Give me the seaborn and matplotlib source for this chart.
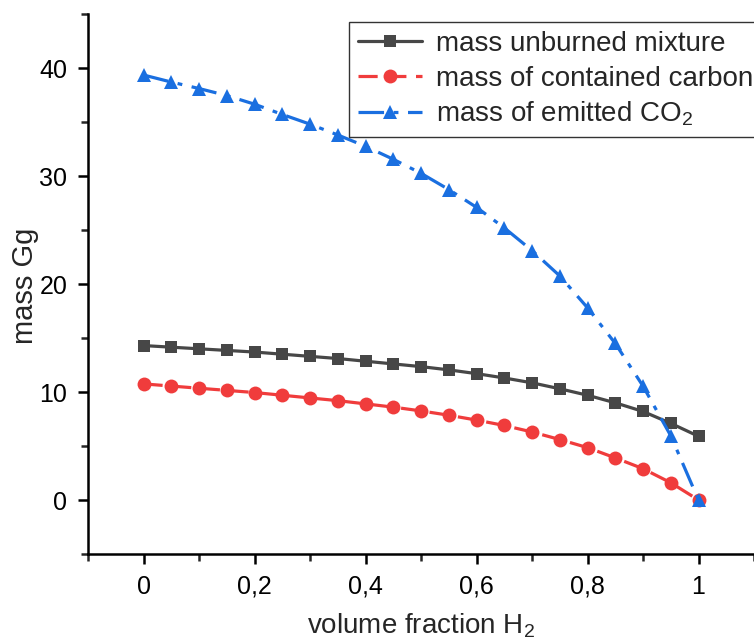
import matplotlib
matplotlib.use('Agg')
import matplotlib.pyplot as plt
import seaborn as sns
import pandas as pd
from matplotlib.ticker import MultipleLocator, FuncFormatter

# dados
fracao_h2 = [0.0, 0.05, 0.1, 0.15, 0.2, 0.25, 0.3, 0.35, 0.4, 0.45, 0.5,
             0.55, 0.6, 0.65, 0.7, 0.75, 0.8, 0.85, 0.9, 0.95, 1.0]
massa_mistura = [14.3, 14.15, 14.0, 13.85, 13.7, 13.5, 13.3, 13.1, 12.85, 12.6, 12.35,
                 12.05, 11.7, 11.3, 10.85, 10.3, 9.7, 9.0, 8.2, 7.1, 5.9]
massa_carbono = [10.75, 10.55, 10.35, 10.15, 9.95, 9.7, 9.45, 9.2, 8.9, 8.6, 8.25,
                 7.85, 7.4, 6.9, 6.3, 5.6, 4.85, 3.9, 2.9, 1.6, 0.0]
massa_co2 = [39.35, 38.7, 38.1, 37.45, 36.65, 35.7, 34.8, 33.8, 32.75, 31.55, 30.25,
             28.75, 27.1, 25.2, 23.1, 20.75, 17.8, 14.5, 10.55, 5.95, 0.0]

nomes = ['mass unburned mixture', 'mass of contained carbon', 'mass of emitted CO$_2$']

df = pd.DataFrame({'x': fracao_h2, 'mix': massa_mistura, 'carb': massa_carbono, 'co2': massa_co2})

sns.set_style('ticks')
plt.rcParams['font.family'] = ['Liberation Sans', 'DejaVu Sans']
plt.rcParams['mathtext.default'] = 'regular'

fig = plt.figure(figsize=(7.54, 6.41), dpi=100)
ax = fig.add_axes([88/754, 87/641, 1 - 88/754, (554 - 14)/641])

sns.lineplot(data=df, x='x', y='mix', ax=ax, color='#474747', linewidth=2.3,
             marker='s', markersize=9, markeredgewidth=0, label=nomes[0])
sns.lineplot(data=df, x='x', y='carb', ax=ax, color='#f03c3c', linewidth=2.3,
             marker='o', markersize=10, markeredgewidth=0, dashes=(6, 3), label=nomes[1])
sns.lineplot(data=df, x='x', y='co2', ax=ax, color='#1a6fe0', linewidth=2.3,
             marker='^', markersize=10.5, markeredgewidth=0, dashes=(8, 3, 1.5, 3), label=nomes[2])

ax.set_xlim(-0.1, 1.1)
ax.set_ylim(-5, 45)
ax.xaxis.set_major_locator(MultipleLocator(0.2))
ax.xaxis.set_minor_locator(MultipleLocator(0.1))
ax.yaxis.set_major_locator(MultipleLocator(10))
ax.yaxis.set_minor_locator(MultipleLocator(5))
ax.xaxis.set_major_formatter(FuncFormatter(lambda v, p: ('%g' % round(v, 2)).replace('.', ',')))
ax.set_xticks([0, 0.2, 0.4, 0.6, 0.8, 1.0])

for s in ['top', 'right']:
    ax.spines[s].set_visible(False)
for s in ['left', 'bottom']:
    ax.spines[s].set_linewidth(1.8)
    ax.spines[s].set_color('black')
ax.tick_params(which='major', length=7, width=1.8, labelsize=18, colors='black', pad=8)
ax.tick_params(which='minor', length=5, width=1.8)

ax.set_xlabel('volume fraction H$_2$', fontsize=20)
ax.set_ylabel('mass Gg', fontsize=21)
ax.xaxis.set_label_coords(0.5, -0.107)
ax.yaxis.set_label_coords(-0.073, 0.496)

leg = ax.legend(loc='upper left', bbox_to_anchor=(349/754, 1 - 22/641), bbox_transform=fig.transFigure,
                fontsize=20, frameon=True, fancybox=False, handlelength=2.3, handletextpad=0.5,
                labelspacing=0.3, borderpad=0.33, borderaxespad=0)
leg.get_frame().set_edgecolor('#333333')
leg.get_frame().set_linewidth(1.0)
leg.get_frame().set_alpha(1)

fig.savefig('out.png', dpi=100)
